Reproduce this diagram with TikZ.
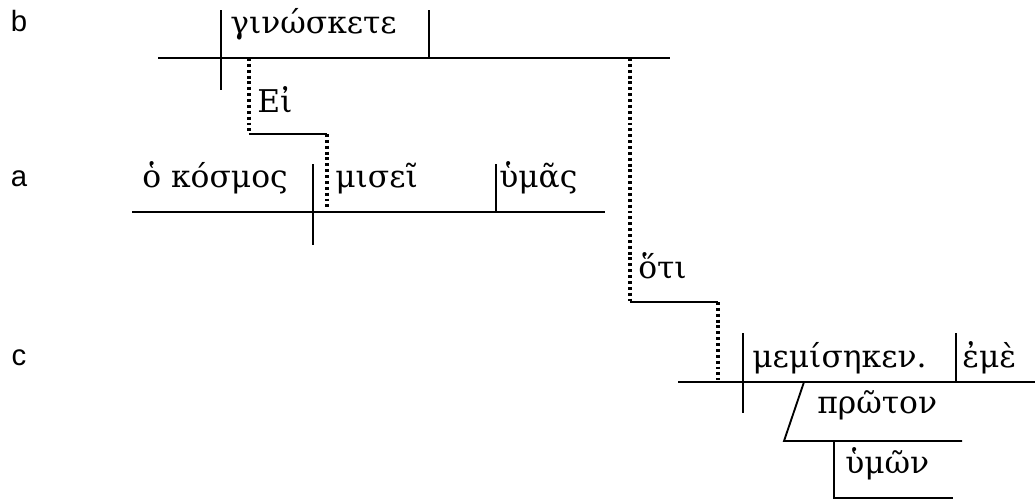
\documentclass[tikz,border=0pt]{standalone}
\usepackage{fontspec}
\setmainfont{DejaVu Serif}
\newfontfamily\lblfont{Liberation Sans}
\begin{document}
\begin{tikzpicture}[x=0.75pt,y=-0.75pt,
  ln/.style={line width=1.4pt},
  dl/.style={line width=2.4pt,dash pattern=on 2.2pt off 2.2pt},
  gk/.style={inner sep=0pt,anchor=base west,font=\fontsize{23.5}{26}\selectfont},
  lbl/.style={inner sep=0pt,font=\lblfont\fontsize{22}{24}\selectfont}]
\useasboundingbox (0,0) rectangle (1035,500);
% labels
\node[lbl] (lb) at (19,21) {b};
\node[lbl] (la) at (19,179) {a};
\node[lbl] (lc) at (19,358) {c};
% clause b
\coordinate (b1) at (158,58);
\coordinate (b2) at (670,58);
\draw[ln] (b1) -- (b2);
\draw[ln] (221,10) -- (221,90);
\draw[ln] (429,10) -- (429,58);
\node[gk] (ginw) at (230,33) {γινώσκετε};
% Ei connector
\coordinate (e1) at (249,58);
\coordinate (e2) at (249,134);
\coordinate (e3) at (327,134);
\coordinate (e4) at (327,210);
\draw[dl] (e1) -- (e2);
\draw[ln] (e2) -- (e3);
\draw[dl] (e3) -- (e4);
\node[gk] (ei) at (257,112) {Εἰ};
% clause a
\draw[ln] (132,212) -- (605,212);
\draw[ln] (313,164) -- (313,245);
\draw[ln] (496,164) -- (496,212);
\node[gk] (ok) at (142,187) {ὁ κόσμος};
\node[gk] (mis) at (335,187) {μισεῖ};
\node[gk] (hym) at (499,187) {ὑμᾶς};
% hoti connector
\coordinate (h1) at (630,58);
\coordinate (h2) at (630,302);
\coordinate (h3) at (718,302);
\coordinate (h4) at (718,380);
\draw[dl] (h1) -- (h2);
\draw[ln] (h2) -- (h3);
\draw[dl] (h3) -- (h4);
\node[gk] (hoti) at (638,278) {ὅτι};
% clause c
\draw[ln] (678,382) -- (1035,382);
\draw[ln] (743,333) -- (743,413);
\draw[ln] (956,333) -- (956,382);
\node[gk] (mem) at (752,367) {μεμίσηκεν.};
\node[gk] (eme) at (962,367) {ἐμὲ};
\draw[ln] (804,382) -- (784,441) -- (962,441);
\node[gk] (prw) at (817,413) {πρῶτον};
\draw[ln] (834,441) -- (834,498) -- (953,498);
\node[gk] (hmw) at (845,473) {ὑμῶν};
\end{tikzpicture}
\end{document}
